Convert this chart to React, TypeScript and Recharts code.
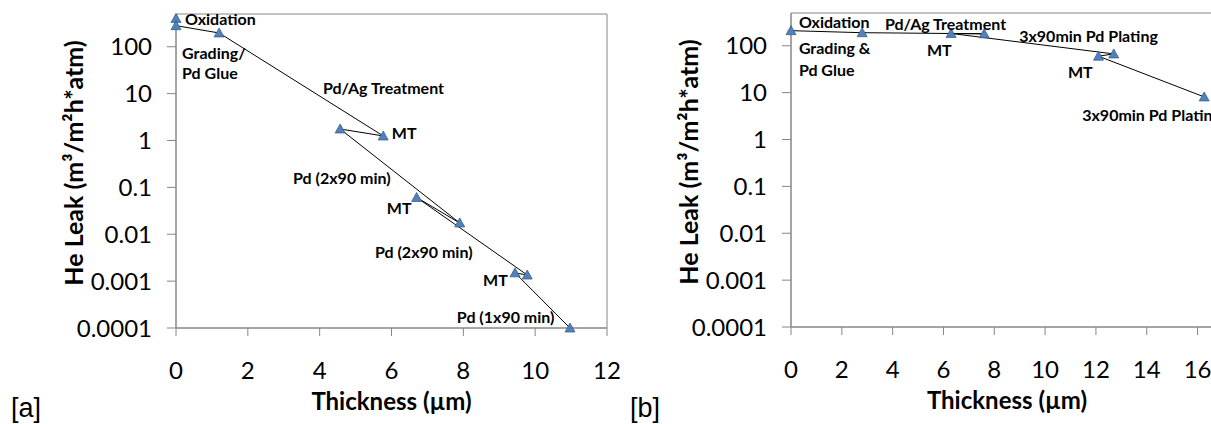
import {
  ReferenceArea,
  ReferenceDot,
  Scatter,
  ScatterChart,
  XAxis,
  YAxis,
} from "recharts";

// shared log axis
const leakTicks = [0.0001, 0.001, 0.01, 0.1, 1, 10, 100];
const leakMax = 500;

// [a]
const thicknessA = [0, 0, 1.2, 5.77, 4.57, 7.9, 6.7, 9.78, 9.44, 10.97];
const leakA = [402, 282, 197, 1.25, 1.76, 0.0174, 0.061, 0.00135, 0.0015, 0.0001];
const xTicksA = [0, 2, 4, 6, 8, 10, 12];
const notesA = [
  { text: "Oxidation", x: 0.25, y: 392 },
  { text: "Grading/", x: 0.17, y: 74 },
  { text: "Pd Glue", x: 0.17, y: 27.6 },
  { text: "Pd/Ag Treatment", x: 4.09, y: 13.2 },
  { text: "MT", x: 6.01, y: 1.45 },
  { text: "Pd (2x90 min)", x: 3.26, y: 0.159 },
  { text: "MT", x: 5.87, y: 0.038 },
  { text: "Pd (2x90 min)", x: 5.54, y: 0.0042 },
  { text: "MT", x: 8.55, y: 0.00111 },
  { text: "Pd (1x90 min)", x: 7.82, y: 0.000172 },
];

// [b]
const thicknessB = [0, 2.8, 7.6, 6.3, 12.7, 12.1, 16.26];
const leakB = [210, 190, 180, 183, 67, 60, 8.1];
const xTicksB = [0, 2, 4, 6, 8, 10, 12, 14, 16];
const notesB = [
  { text: "Oxidation", x: 0.31, y: 325 },
  { text: "Grading &", x: 0.31, y: 89.7 },
  { text: "Pd Glue", x: 0.31, y: 30.5 },
  { text: "Pd/Ag Treatment", x: 3.7, y: 292 },
  { text: "MT", x: 5.35, y: 81.3 },
  { text: "3x90min Pd Plating", x: 8.98, y: 162 },
  { text: "MT", x: 10.9, y: 27.6 },
  { text: "3x90min Pd Plating", x: 11.46, y: 3.34 },
];

const GRAY = "#868686";
const FONT = "Lato, 'Open Sans', sans-serif";
const tickStyle = { fontFamily: FONT, fontSize: 24, fill: "#000" };

function Tri(props: any) {
  const { cx, cy } = props;
  return (
    <polygon
      points={`${cx},${cy - 5} ${cx + 5},${cy + 4} ${cx - 5},${cy + 4}`}
      fill="#4F81BD"
      stroke="#385D8A"
      strokeWidth={0.75}
    />
  );
}

function XTitle(props: any) {
  const vb = props.viewBox;
  return (
    <text
      x={vb.x + vb.width / 2}
      y={vb.y + 72}
      textAnchor="middle"
      dominantBaseline="central"
      fontFamily={FONT}
      fontWeight="bold"
      fontSize={24}
      fill="#000"
    >
      Thickness (µm)
    </text>
  );
}

function YTitle(props: any) {
  const vb = props.viewBox;
  const cx = vb.x + 73;
  const cy = vb.y + vb.height / 2 - 8;
  return (
    <text
      x={cx}
      y={cy}
      transform={`rotate(-90 ${cx} ${cy})`}
      textAnchor="middle"
      dominantBaseline="central"
      fontFamily={FONT}
      fontWeight="bold"
      fontSize={25}
      fill="#000"
    >
      He Leak (m³/m²h*atm)
    </text>
  );
}

type Note = { text: string; x: number; y: number };

function Panel({
  xs,
  ys,
  xTicks,
  xMax,
  notes,
  left,
  top,
  right,
}: {
  xs: number[];
  ys: number[];
  xTicks: number[];
  xMax: number;
  notes: Note[];
  left: number;
  top: number;
  right: number;
}) {
  const pts = xs.map((x, i) => ({ x, y: ys[i] }));
  return (
    <div style={{ position: "absolute", left, top: 0 }}>
      <ScatterChart
        width={640}
        height={424}
        margin={{ top, right, bottom: 0, left: 0 }}
      >
        <XAxis
          type="number"
          dataKey="x"
          domain={[0, xMax]}
          ticks={xTicks}
          height={424 - 328 + (14 - top)}
          tickSize={8}
          tickMargin={26}
          axisLine={{ stroke: GRAY }}
          tickLine={{ stroke: GRAY }}
          tick={tickStyle}
          label={{ content: XTitle }}
        />
        <YAxis
          type="number"
          dataKey="y"
          scale="log"
          domain={[0.0001, leakMax]}
          ticks={leakTicks}
          tickFormatter={(v: number) => String(v)}
          width={176}
          tickSize={9}
          tickMargin={15}
          axisLine={{ stroke: GRAY }}
          tickLine={{ stroke: GRAY }}
          tick={tickStyle}
          label={{ content: YTitle }}
        />
        <ReferenceArea
          x1={0}
          x2={xMax}
          y1={0.0001}
          y2={leakMax}
          fill="none"
          stroke={GRAY}
          ifOverflow="visible"
        />
        <Scatter
          data={pts}
          shape={Tri}
          line={{ stroke: "#000", strokeWidth: 1 }}
          isAnimationActive={false}
        />
        {notes.map((n, i) => (
          <ReferenceDot
            key={i}
            x={n.x}
            y={n.y}
            r={0}
            ifOverflow="visible"
            shape={(p: any) => (
              <text
                x={p.cx}
                y={p.cy}
                dominantBaseline="central"
                fontFamily={FONT}
                fontWeight="bold"
                fontSize={16}
                fill="#000"
              >
                {n.text}
              </text>
            )}
          />
        ))}
      </ScatterChart>
    </div>
  );
}

export default function App() {
  return (
    <div
      style={{
        position: "fixed",
        left: 0,
        top: 0,
        width: 1211,
        height: 424,
        overflow: "hidden",
        background: "#fff",
      }}
    >
      <Panel
        xs={thicknessA}
        ys={leakA}
        xTicks={xTicksA}
        xMax={12}
        notes={notesA}
        left={0}
        top={14}
        right={33}
      />
      <Panel
        xs={thicknessB}
        ys={leakB}
        xTicks={xTicksB}
        xMax={17}
        notes={notesB}
        left={615}
        top={13}
        right={32}
      />
      <div
        style={{
          position: "absolute",
          left: 11,
          top: 393,
          fontFamily: "'Liberation Sans', Arial, sans-serif",
          fontSize: 27,
          lineHeight: "30px",
        }}
      >
        [a]
      </div>
      <div
        style={{
          position: "absolute",
          left: 630,
          top: 393,
          fontFamily: "'Liberation Sans', Arial, sans-serif",
          fontSize: 27,
          lineHeight: "30px",
        }}
      >
        [b]
      </div>
    </div>
  );
}
